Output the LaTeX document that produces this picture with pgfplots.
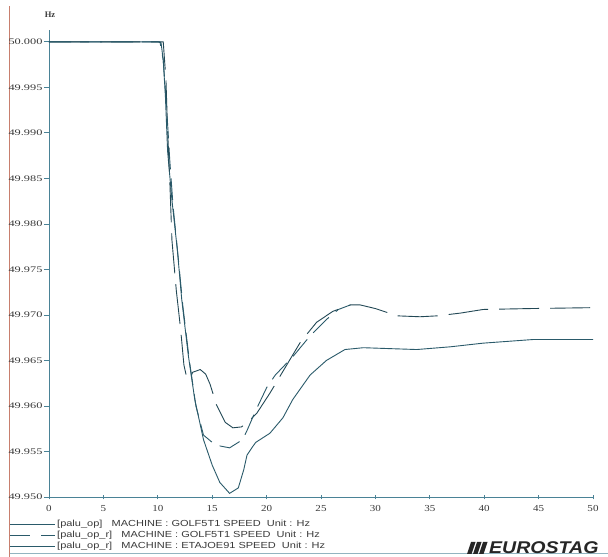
\documentclass[border=0pt]{standalone}
\usepackage{fontspec}
\usepackage{pgfplots}
\pgfplotsset{compat=1.18}
\setmainfont{Liberation Serif}
\setsansfont{Liberation Sans}
\newfontfamily\ytickfont[FakeStretch=1.45]{Liberation Serif}
\newfontfamily\xtickfont[FakeStretch=1.2]{Liberation Serif}
\newfontfamily\legfont[FakeStretch=1.25]{Liberation Sans}
\newfontfamily\logofont[FakeStretch=1.15]{Liberation Sans}
\definecolor{lc}{HTML}{2A5A6A}
\definecolor{ax}{HTML}{4A8296}
\definecolor{tx}{HTML}{3A3A3A}
\definecolor{rl}{HTML}{C87F6E}

\begin{document}
\begin{tikzpicture}[x=1pt,y=1pt]
\useasboundingbox (0,0) rectangle (608,557);
\fill[white] (0,0) rectangle (608,557);
\draw[rl, line width=0.8pt] (9.5,0) -- (9.5,551);
\draw[ax!60, line width=1pt] (9.5,3) -- (608,3);
\begin{axis}[
  at={(49pt,60pt)}, anchor=south west, scale only axis,
  width=544pt, height=467pt,
  xmin=0, xmax=50, ymin=49.95, ymax=50.0013,
  axis x line=bottom, axis y line=left,
  axis line style={ax, line width=0.9pt, -},
  xtick={0,5,10,15,20,25,30,35,40,45,50},
  ytick={49.950,49.955,49.960,49.965,49.970,49.975,49.980,49.985,49.990,49.995,50.000},
  scaled y ticks=false, scaled x ticks=false,
  xtick align=center, ytick align=outside,
  major tick length=5pt,
  tick style={ax, line width=0.8pt},
  /pgf/number format/assume math mode=true,
  yticklabel style={font=\ytickfont\fontsize{8.5}{9}\selectfont, text=tx,
    /pgf/number format/fixed, /pgf/number format/fixed zerofill,
    /pgf/number format/precision=3, xshift=2pt},
  xticklabel style={font=\xtickfont\fontsize{9.2}{10}\selectfont, text=tx, yshift=-2pt},
  clip=false,
]
% [palu_op] MACHINE : GOLF5T1 SPEED
\addplot[lc, line width=0.9pt] coordinates {
(0,50.0000) (10.0,50.0000) (10.3,49.9999) (10.5,49.9980) (10.7,49.9940)
(10.9,49.9880) (11.3,49.9826) (11.8,49.9771) (12.2,49.9717) (12.8,49.9656)
(13.4,49.9607) (14.2,49.9563) (15.0,49.9535) (15.7,49.9516) (16.6,49.9504)
(17.4,49.9510) (17.9,49.9530) (18.2,49.9546) (18.7,49.9555) (19.0,49.9560)
(20.3,49.9570) (21.5,49.9587) (22.4,49.9607) (24.0,49.9634) (25.5,49.9650)
(27.2,49.9662) (28.9,49.9664) (31.3,49.9663) (33.8,49.9662) (36.9,49.9665)
(39.9,49.9669) (44.5,49.9673) (50.0,49.9673)
};
% [palu_op_r] MACHINE : GOLF5T1 SPEED
\addplot[lc!80!black, line width=0.9pt, dash pattern=on 40pt off 11pt] coordinates {
(0,50.0000) (10.5,50.0000) (10.75,49.9958) (10.9,49.9903) (11.1,49.9848)
(11.3,49.9782) (11.7,49.9727) (12.1,49.9684) (12.4,49.9645) (12.7,49.9629)
(13.0,49.9631) (13.2,49.9637) (13.9,49.9640) (14.4,49.9635) (14.8,49.9624)
(15.4,49.9601) (16.2,49.9582) (16.9,49.9576) (17.7,49.9577) (18.5,49.9585)
(19.1,49.9592) (20.3,49.9614) (21.7,49.9642) (23.1,49.9670) (24.6,49.9692)
(26.1,49.9704) (27.7,49.9711) (28.6,49.9711) (30.0,49.9707) (32.0,49.9699)
(34.1,49.9698) (35.7,49.9699) (37.8,49.9702) (39.9,49.9706) (44.2,49.9707)
(50.0,49.9708)
};
% [palu_op_r] MACHINE : ETAJOE91 SPEED
\addplot[lc, line width=0.9pt, dash pattern=on 22pt off 9pt] coordinates {
(0,50.0000) (10.2,50.0000) (10.5,49.9980) (10.8,49.9930) (11.1,49.9870)
(11.4,49.9820) (11.9,49.9760) (12.3,49.9710) (12.9,49.9650) (13.5,49.9600)
(14.2,49.9568) (15.3,49.9557) (16.6,49.9554) (17.8,49.9563) (18.2,49.9573)
(19.0,49.9595) (20.0,49.9620) (20.8,49.9634) (22.4,49.9654) (24.0,49.9677)
(25.5,49.9695) (26.6,49.9706) (27.7,49.9711)
};
\end{axis}
\node[font=\bfseries\fontsize{8.5}{9}\selectfont, text=tx] at (50,542) {Hz};
% legend
\draw[lc, line width=0.9pt] (10,33) -- (55,33);
\draw[lc, line width=0.9pt] (10,22) -- (30,22) (41,22) -- (55,22);
\draw[lc, line width=0.9pt] (10,11) -- (55,11);
\begin{scope}[every node/.style={anchor=west, inner sep=0pt, text=tx, font=\legfont\fontsize{8.8}{9}\selectfont}]
\node at (57,33) {[palu\_op]\ \ \ MACHINE : GOLF5T1 SPEED\ \ Unit : Hz};
\node at (57,22) {[palu\_op\_r]\ \ \ MACHINE : GOLF5T1 SPEED\ \ Unit : Hz};
\node at (57,11) {[palu\_op\_r]\ \ \ MACHINE : ETAJOE91 SPEED\ \ Unit : Hz};
\end{scope}
% logo
\foreach \i in {0,1,2} {
  \fill[black!85] (467+6*\i,3) -- (471.5+6*\i,3) -- (475.5+6*\i,15) -- (471+6*\i,15) -- cycle;
}
\node[anchor=base west, inner sep=0pt, font=\logofont\bfseries\itshape\fontsize{17}{17}\selectfont, text=black!85] at (489,3) {EUROSTAG};
\end{tikzpicture}
\end{document}
